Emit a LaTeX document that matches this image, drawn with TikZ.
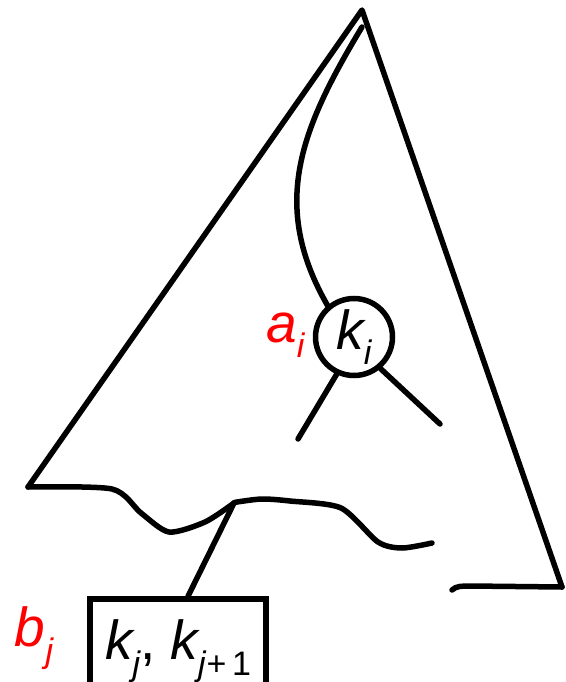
\documentclass[tikz,border=0pt]{standalone}
\usepackage{fontspec}
\setmainfont{Liberation Sans}
\newcommand{\subsc}[1]{\raisebox{-0.28em}{\fontsize{34}{34}\selectfont #1}}
\newcommand{\symk}[1]{{\itshape k\subsc{#1}}}
\begin{document}
\begin{tikzpicture}[x=1pt,y=-1pt,
  ln/.style={line width=5.5pt,line join=round,line cap=round},
  keynode/.style={circle,draw,line width=5.5pt,minimum size=77pt,inner sep=0pt},
  leafbox/.style={rectangle,draw,line width=5.5pt,minimum width=176pt,minimum height=104pt,inner sep=0pt},
  lab/.style={text=red,font=\fontsize{55}{55}\selectfont\itshape},
  txt/.style={font=\fontsize{55}{55}\selectfont}]
\useasboundingbox (0,0) rectangle (565,682);
\coordinate (apex) at (362,10);
\coordinate (lft) at (28,487);
\coordinate (rgt) at (562,587);
\coordinate (top) at (362,27);
\coordinate (c1) at (298,439);
\coordinate (c2) at (440,424);
\coordinate (w) at (234,503);
\node[keynode,txt] (ai) at (354,337) {\symk{\textit{i}}};
\node[lab,anchor=east] (al) at (308,335) {a\subsc{i}};
\node[leafbox,txt] (bj) at (178,651) {\raisebox{0.2em}{\symk{\textit{j}},\ \symk{\textit{j}\textup{+\,1}}}};
\node[lab] (bl) at (34,638) {b\subsc{j}};
% triangle sides
\draw[ln] (lft) -- (apex) -- (rgt);
% bottom wavy fringe
\draw[ln] plot[smooth,tension=0.45] coordinates {(28,487) (112,489) (141,513) (169,532) (205,522) (w)};
\draw[ln] plot[smooth,tension=0.45] coordinates {(w) (237,502) (262,499) (290,501) (341,508) (378,542) (402,548) (432,543)};
\draw[ln] (452,590) .. controls (456,586) and (462,586) .. (470,586) -- (rgt);
% connectors
\draw[ln] (top) .. controls (300,130) and (270,205) .. (ai.130);
\draw[ln] (ai.245) -- (c1);
\draw[ln] (ai.310) -- (c2);
\coordinate (bt) at ([xshift=10pt]bj.north);
\draw[ln] (bt) -- (w);
\end{tikzpicture}
\end{document}
